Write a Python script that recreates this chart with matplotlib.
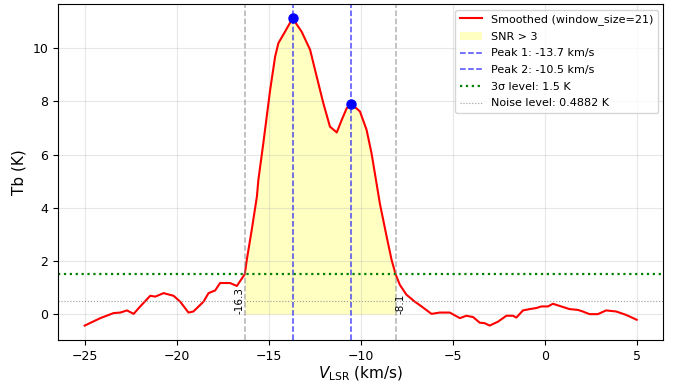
import matplotlib
matplotlib.use("Agg")
import matplotlib.pyplot as plt
import numpy as np

# smoothed spectrum (km/s, K)
velocity = [-25.0, -24.15, -23.43, -23.06, -22.70, -22.34, -21.98, -21.44, -21.16,
            -20.71, -20.17, -19.81, -19.36, -19.09, -18.54, -18.27, -17.91, -17.64,
            -17.10, -16.73, -16.3, -16.19, -15.92, -15.64, -15.56, -15.29, -14.92,
            -14.65, -14.47, -14.11, -13.7, -13.21, -12.75, -12.39, -12.03, -11.67,
            -11.30, -11.03, -10.76, -10.5, -10.04, -9.68, -9.41, -9.17, -8.96, -8.59,
            -8.32, -8.1, -7.87, -7.51, -7.06, -6.69, -6.15, -5.70, -5.16, -4.61,
            -4.25, -3.89, -3.53, -3.26, -2.99, -2.53, -2.08, -1.72, -1.54, -1.18,
            -0.82, -0.45, -0.18, 0.18, 0.45, 0.81, 1.35, 1.80, 2.07, 2.44, 2.89,
            3.34, 3.89, 4.43, 5.0]
tb = [-0.43, -0.15, 0.04, 0.06, 0.14, 0.01, 0.29, 0.69, 0.66,
      0.79, 0.69, 0.47, 0.06, 0.10, 0.47, 0.79, 0.89, 1.17,
      1.17, 1.06, 1.50, 2.04, 3.17, 4.42, 5.05, 6.43, 8.43,
      9.68, 10.19, 10.62, 11.12, 10.62, 9.94, 8.93, 7.93, 7.05,
      6.83, 7.30, 7.74, 7.90, 7.62, 6.93, 6.05, 5.05, 4.17, 2.92,
      2.04, 1.50, 1.10, 0.73, 0.47, 0.29, 0.01, 0.06, 0.06, -0.15,
      -0.06, -0.11, -0.32, -0.34, -0.43, -0.28, -0.06, -0.06, -0.13, 0.14,
      0.19, 0.23, 0.29, 0.29, 0.39, 0.31, 0.19, 0.16, 0.10, 0.00, 0.00,
      0.14, 0.10, -0.03, -0.21]

peaks_v = [-13.7, -10.5]
peaks_t = [11.12, 7.90]
snr_bounds = [-16.3, -8.1]
sigma3 = 1.5
noise = 0.4882

velocity = np.array(velocity)
tb = np.array(tb)

fig = plt.figure(figsize=(6.84, 3.83), dpi=100)
ax = fig.add_axes([0.0848, 0.111, 0.885, 0.878])

ax.plot(velocity, tb, color='red', lw=1.5, label='Smoothed (window_size=21)')
mask = (velocity >= snr_bounds[0]) & (velocity <= snr_bounds[1])
ax.fill_between(velocity, 0, tb, where=mask, color='yellow', alpha=0.24, lw=0,
                label='SNR > 3')

for i, (pv, pt) in enumerate(zip(peaks_v, peaks_t)):
    ax.axvline(pv, color='blue', ls='--', lw=1.1, alpha=0.7,
               label=f'Peak {i + 1}: {pv:.1f} km/s')
    ax.plot(pv, pt, 'o', color='blue', ms=6.5)

ax.axhline(sigma3, color='green', ls=':', lw=1.6, label=f'3σ level: {sigma3:.1f} K')
ax.axhline(noise, color='gray', ls=':', lw=0.8, alpha=0.8,
           label=f'Noise level: {noise:.4f} K')

for b, ha in zip(snr_bounds, ['right', 'left']):
    ax.axvline(b, color='gray', ls='--', lw=1.1, alpha=0.6)
    ax.text(b, 0, f'{b:.1f}', rotation=90, va='bottom', ha=ha, fontsize=7.5)

ax.set_xlabel(r'$V_{\rm LSR}$ (km/s)', fontsize=11, labelpad=1)
ax.set_ylabel('Tb (K)', fontsize=11)
ax.tick_params(labelsize=9)
ax.grid(True, alpha=0.3)
ax.set_xlim(-26.45, 6.45)
ax.set_ylim(-0.99, 11.65)
ax.legend(loc='upper right', fontsize=8, labelspacing=0.6)

fig.savefig('out.png', dpi=100)
